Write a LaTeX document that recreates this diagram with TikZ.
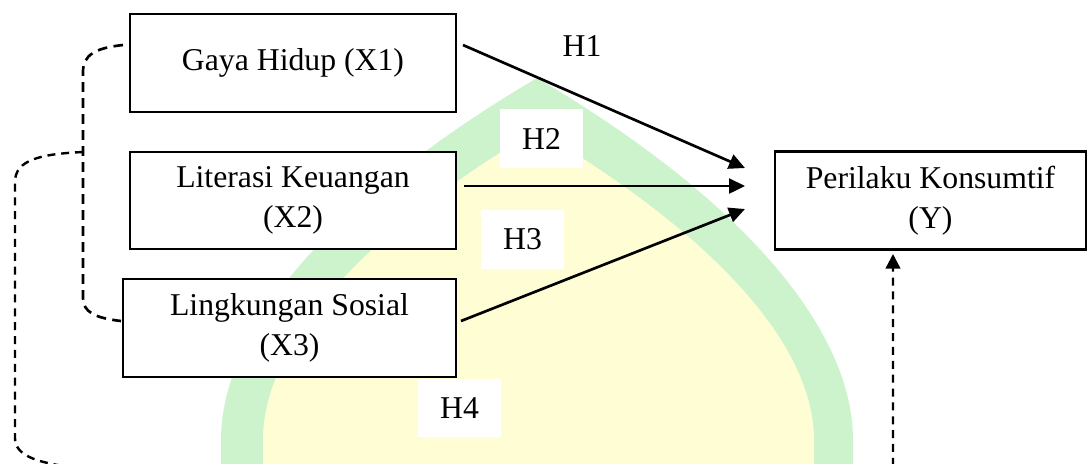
\documentclass[tikz,border=0pt]{standalone}
\usepackage{fontspec}
\setmainfont{Liberation Serif}
\usetikzlibrary{arrows.meta}
\definecolor{wmgreen}{RGB}{205,243,205}
\definecolor{wmyellow}{RGB}{255,253,212}
\begin{document}
\begin{tikzpicture}[x=0.375pt,y=-0.375pt,
  txt/.style={font=\fontsize{11.9}{15}\selectfont},
  varbox/.style={txt,draw,line width=0.8pt,inner sep=0pt,align=center,fill=white},
  hlabel/.style={txt,fill=white,inner sep=0pt,minimum width=31.1pt,minimum height=22.1pt},
  effect/.style={line width=1pt,-{Triangle[length=6pt,width=5.6pt]}},
  corr/.style={line width=1pt,dash pattern=on 3.6pt off 2.4pt},
  covar/.style={line width=0.9pt,dash pattern=on 3pt off 2.2pt,-{Triangle[length=5.5pt,width=5.5pt]}}]
\useasboundingbox (0,0) rectangle (1088,463);
\clip (0,0) rectangle (1088,463);
% watermark
\fill[wmgreen] (221,470) -- (221,440) .. controls (221,330) and (330,200) .. (537,78)
  .. controls (744,200) and (853,330) .. (853,440) -- (853,470) -- cycle;
\fill[wmyellow] (263,470) -- (263,440) .. controls (263,345) and (360,235) .. (537,130)
  .. controls (714,235) and (814,345) .. (814,440) -- (814,470) -- cycle;
% boxes
\node[varbox,minimum width=122.25pt,minimum height=36.75pt] (X1) at (293,63) {Gaya Hidup (X1)};
\node[varbox,minimum width=122.25pt,minimum height=36.4pt] (X2) at (293,200.5) {Literasi Keuangan\\(X2)};
\node[varbox,minimum width=124.9pt,minimum height=36.75pt] (X3) at (289.5,328) {Lingkungan Sosial\\(X3)};
\node[varbox,minimum width=116.6pt,minimum height=36.75pt] (Y) at (930.5,200.5) {Perilaku Konsumtif\\(Y)};
% labels
\node[txt] (H1) at (582,46) {H1};
\node[hlabel] (H2) at (541.5,138.5) {H2};
\node[hlabel] (H3) at (522.5,239.5) {H3};
\node[hlabel] (H4) at (459.5,408) {H4};
% arrow end coordinates
\coordinate (s1) at (463,45);
\coordinate (e1) at (745,168);
\coordinate (s2) at (464,186);
\coordinate (e2) at (745,186);
\coordinate (s3) at (461,321);
\coordinate (e3) at (745,209);
\coordinate (a1) at (123,45);
\coordinate (a2) at (121,321);
\coordinate (j) at (83,152);
\coordinate (yb) at (893,254);
\draw[effect] (s1) -- (e1);
\draw[effect] (s2) -- (e2);
\draw[effect] (s3) -- (e3);
% correlations
\draw[corr] (a1) .. controls (95,48) and (83,55) .. (83,72) -- (83,298)
  .. controls (83,312) and (95,318) .. (a2);
\draw[covar] (j) .. controls (40,154) and (15,160) .. (15,182) -- (15,438)
  .. controls (15,455) and (35,462) .. (70,467) -- (893,472) -- (yb);
\end{tikzpicture}
\end{document}
